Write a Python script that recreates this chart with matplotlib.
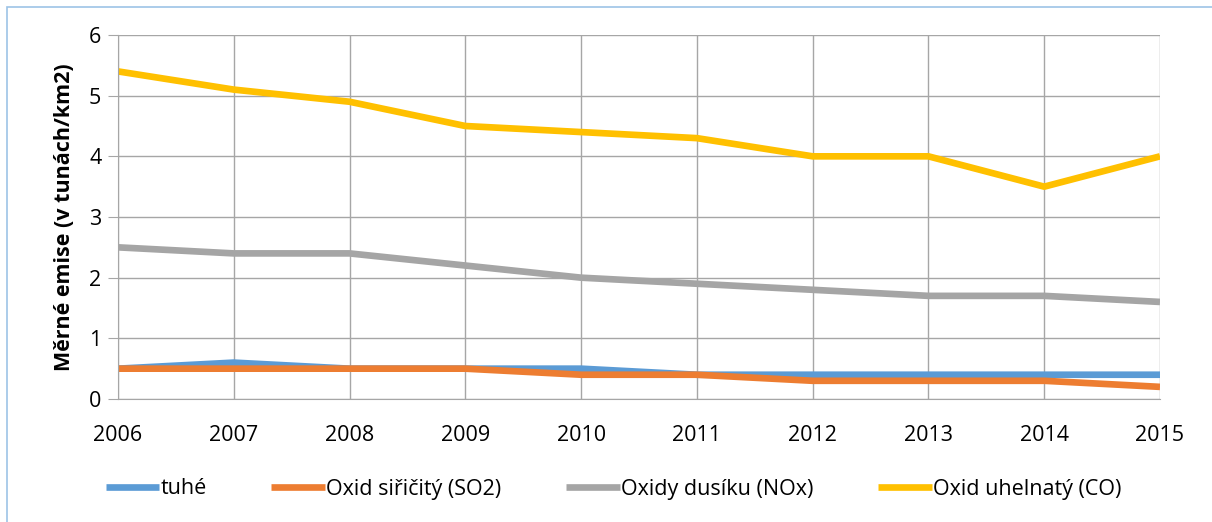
import matplotlib
matplotlib.use("agg")
import matplotlib.pyplot as plt
from matplotlib.patches import Rectangle

years = [2006, 2007, 2008, 2009, 2010, 2011, 2012, 2013, 2014, 2015]
tuhe = [0.5, 0.6, 0.5, 0.5, 0.5, 0.4, 0.4, 0.4, 0.4, 0.4]
so2 = [0.5, 0.5, 0.5, 0.5, 0.4, 0.4, 0.3, 0.3, 0.3, 0.2]
nox = [2.5, 2.4, 2.4, 2.2, 2.0, 1.9, 1.8, 1.7, 1.7, 1.6]
co = [5.4, 5.1, 4.9, 4.5, 4.4, 4.3, 4.0, 4.0, 3.5, 4.0]

labels = ["tuhé", "Oxid siřičitý (SO2)", "Oxidy dusíku (NOx)", "Oxid uhelnatý (CO)"]
colors = ["#5b9bd5", "#ed7d31", "#a5a5a5", "#ffc000"]

plt.rcParams["font.family"] = ["Open Sans", "DejaVu Sans"]

fig = plt.figure(figsize=(12.12, 5.22), dpi=100)
ax = fig.add_axes([118 / 1212, 1 - 399 / 522, (1160 - 118) / 1212, (399 - 35) / 522])

for vals, lab, col in zip([tuhe, so2, nox, co], labels, colors):
    ax.plot(years, vals, color=col, linewidth=4.8, label=lab, solid_capstyle="butt")

ax.set_xlim(2006, 2015)
ax.set_ylim(0, 6)
ax.set_xticks(years)
ax.set_yticks(range(0, 7))
ax.grid(True, color="#a6a6a6", linewidth=1)
ax.set_axisbelow(True)
for side in ["top", "right"]:
    ax.spines[side].set_visible(False)
for side in ["left", "bottom"]:
    ax.spines[side].set_color("#a6a6a6")
ax.tick_params(axis="y", length=7, color="#a6a6a6", labelsize=15.5, pad=5)
ax.tick_params(axis="x", length=0, labelsize=15.5, pad=19)
ax.set_ylabel("Měrné emise (v tunách/km2)", fontsize=15.5, fontweight="bold", labelpad=10)

fig.legend(loc="center", bbox_to_anchor=(0.506, 1 - 489 / 522), ncol=4, frameon=False,
           fontsize=15.5, handlelength=2.5, handletextpad=0.05, columnspacing=3.0)

fig.patches.append(Rectangle((7 / 1212, -0.1), 1.2, 1 - 7 / 522 + 0.1, transform=fig.transFigure,
                             fill=False, edgecolor="#9dc3e6", linewidth=1.2))

fig.savefig("out.png", dpi=100)
